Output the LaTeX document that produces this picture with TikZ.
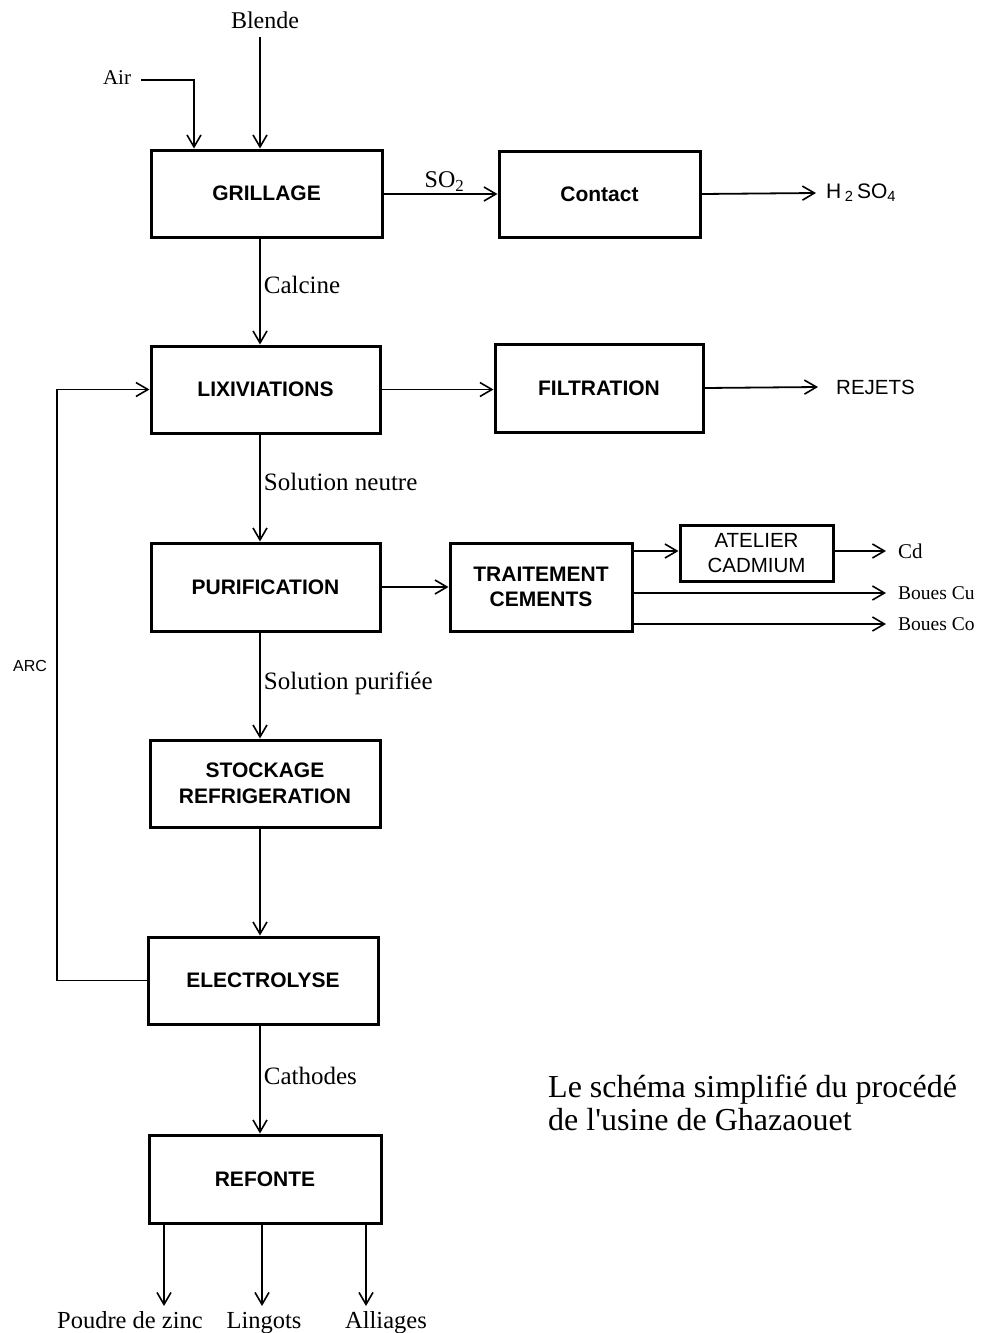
\documentclass[tikz,border=0pt]{standalone}
\usepackage{fontspec}
\setmainfont{Liberation Serif}
\setsansfont{Liberation Sans}
\newfontfamily\titlefont{Liberation Serif}[Ligatures=TeXOff]
\usetikzlibrary{arrows.meta}
\begin{document}
\begin{tikzpicture}[x=1pt,y=-1pt,
  box/.style={draw, line width=3pt, minimum width=#1, inner sep=0pt, align=center,
     font=\sffamily\bfseries\fontsize{21}{25.5}\selectfont},
  thinbox/.style={draw, line width=3pt, minimum width=#1, inner sep=0pt, align=center,
     font=\sffamily\fontsize{20.5}{25}\selectfont},
  flow/.style={line width=1.8pt, -{Straight Barb[length=12pt,width=14pt,line width=1.6pt]}},
  lab/.style={font=\fontsize{25}{29}\selectfont, inner sep=3pt},
  outlab/.style={font=\fontsize{21}{25}\selectfont, inner sep=0pt, anchor=west},
  botlab/.style={font=\fontsize{24.5}{28}\selectfont, inner sep=0pt, anchor=base},
  sflab/.style={font=\sffamily\fontsize{21}{25}\selectfont, inner sep=0pt}
]
\useasboundingbox (0,0) rectangle (980,1333);

% boxes
\node[box=231pt, minimum height=87pt] (gril) at (266.5,193.5) {GRILLAGE};
\node[box=201pt, minimum height=86pt] (contact) at (599.5,194) {Contact};
\node[box=229pt, minimum height=87pt] (lix) at (265.5,389.5) {LIXIVIATIONS};
\node[box=208pt, minimum height=88pt] (filt) at (599,388) {FILTRATION};
\node[box=229pt, minimum height=88pt] (puri) at (265.5,587) {PURIFICATION};
\node[box=182pt, minimum height=88pt] (trait) at (541,587) {TRAITEMENT\\CEMENTS};
\node[thinbox=153pt, minimum height=56pt] (atel) at (756.5,553) {ATELIER\\CADMIUM};
\node[box=230pt, minimum height=87pt] (stock) at (265,783.5) {STOCKAGE\\REFRIGERATION};
\node[box=230pt, minimum height=87pt] (elec) at (263,980.5) {ELECTROLYSE};
\node[box=232pt, minimum height=88pt] (refo) at (265,1179) {REFONTE};

% inputs
\node[font=\fontsize{24}{28}\selectfont, inner sep=0pt] (blende) at (265,20) {Blende};
\node[font=\fontsize{21}{25}\selectfont, inner sep=0pt] (air) at (117,78) {Air};
\coordinate (vx) at (260,0);
\coordinate (airx) at (194,0);
\draw[flow] ([yshift=-8pt]blende.south -| vx) -- (gril.north -| vx);
\draw[flow] ([xshift=10pt,yshift=-2pt]air.east) -| (gril.north -| airx);

% SO2 / contact
\draw[flow] (gril.east |- contact.west) -- node[above, font=\fontsize{24}{28}\selectfont, inner sep=2pt, xshift=4pt] (so2) {SO\textsubscript{2}} (contact.west);
\node[sflab, anchor=west] (h2so4) at (826,193) {H\,\textsubscript{2}\,SO\textsubscript{4}};
\draw[flow] (contact.east) -- ([xshift=-10pt]h2so4.west);

% main column
\draw[flow] (gril.south -| vx) -- node[lab, right, pos=0.44] (calc) {Calcine} (lix.north -| vx);
\draw[flow] (lix.south -| vx) -- node[lab, right, pos=0.445] (sneu) {Solution neutre} (puri.north -| vx);
\draw[flow] (puri.south -| vx) -- node[lab, right, pos=0.477] (spur) {Solution purifiée} (stock.north -| vx);
\draw[flow] (stock.south -| vx) -- (elec.north -| vx);
\draw[flow] (elec.south -| vx) -- node[lab, right, pos=0.468] (cath) {Cathodes} (refo.north -| vx);

% filtration
\draw[flow] (lix.east) -- (lix.east -| filt.west);
\node[sflab, anchor=west, font=\sffamily\fontsize{20.5}{25}\selectfont] (rej) at (836,387) {REJETS};
\draw[flow] (filt.east) -- ([xshift=-18pt]rej.west);

% purification branch
\draw[flow] (puri.east) -- (trait.west);
\coordinate (ay) at (0,551);
\draw[flow] (trait.east |- ay) -- (atel.west |- ay);
\node[outlab] (cd) at (898,551) {Cd};
\node[outlab, font=\fontsize{19.5}{23}\selectfont] (bcu) at (898,593) {Boues Cu};
\node[outlab, font=\fontsize{19.5}{23}\selectfont] (bco) at (898,624) {Boues Co};
\draw[flow] (atel.east |- ay) -- ([xshift=-12pt]cd.west |- ay);
\draw[flow] (trait.east |- bcu.west) -- ([xshift=-12pt]bcu.west);
\draw[flow] (trait.east |- bco.west) -- ([xshift=-12pt]bco.west);

% ARC recycle
\coordinate (arcx) at (57,0);
\draw[flow] (elec.west) -| (arcx |- lix.west) -- (lix.west);
\node[sflab, font=\sffamily\fontsize{16}{20}\selectfont] (arc) at (30,666) {ARC};

% outputs
\node[botlab] (poudre) at (130,1328) {Poudre de zinc};
\node[botlab] (ling) at (264,1328) {Lingots};
\node[botlab] (alli) at (386,1328) {Alliages};
\coordinate (o1) at (164,1306);
\coordinate (o2) at (262,1306);
\coordinate (o3) at (366,1306);
\draw[flow] (refo.south -| o1) -- (o1);
\draw[flow] (refo.south -| o2) -- (o2);
\draw[flow] (refo.south -| o3) -- (o3);

% title
\node[anchor=west, align=left, inner sep=0pt, font=\titlefont\fontsize{32}{33}\selectfont] (title) at (548,1103)
  {Le schéma simplifié du procédé\\de l'usine de Ghazaouet};
\end{tikzpicture}
\end{document}
